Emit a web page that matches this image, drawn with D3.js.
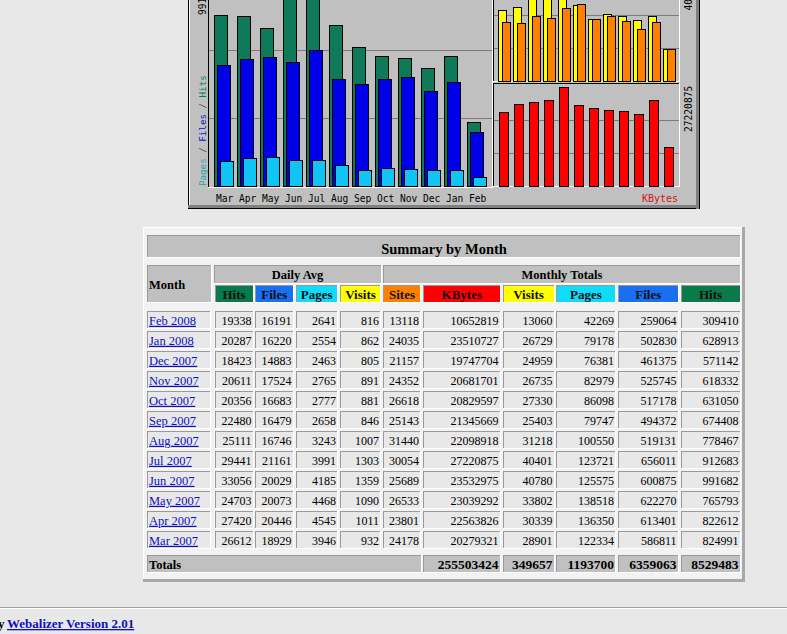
<!DOCTYPE html>
<html><head><meta charset="utf-8">
<script src="https://cdn.jsdelivr.net/npm/d3@7"></script>
<style>html,body{margin:0;padding:0;background:#e8e8e8;overflow:hidden}</style>
</head><body>
<svg id="c" width="787" height="634"></svg>
<script>
// ---------- data ----------
const chartMonths = ["Mar","Apr","May","Jun","Jul","Aug","Sep","Oct","Nov","Dec","Jan","Feb"];
const tableMonths = ["Feb 2008","Jan 2008","Dec 2007","Nov 2007","Oct 2007","Sep 2007","Aug 2007","Jul 2007","Jun 2007","May 2007","Apr 2007","Mar 2007"];
const dailyHits   = [19338,20287,18423,20611,20356,22480,25111,29441,33056,24703,27420,26612];
const dailyFiles  = [16191,16220,14883,17524,16683,16479,16746,21161,20029,20073,20446,18929];
const dailyPages  = [2641,2554,2463,2765,2777,2658,3243,3991,4185,4468,4545,3946];
const dailyVisits = [816,862,805,891,881,846,1007,1303,1359,1090,1011,932];
const totalSites  = [13118,24035,21157,24352,26618,25143,31440,30054,25689,26533,23801,24178];
const totalKBytes = [10652819,23510727,19747704,20681701,20829597,21345669,22098918,27220875,23532975,23039292,22563826,20279321];
const totalVisits = [13060,26729,24959,26735,27330,25403,31218,40401,40780,33802,30339,28901];
const totalPages  = [42269,79178,76381,82979,86098,79747,100550,123721,125575,138518,136350,122334];
const totalFiles  = [259064,502830,461375,525745,517178,494372,519131,656011,600875,622270,613401,586811];
const totalHits   = [309410,628913,571142,618332,631050,674408,778467,912683,991682,765793,822612,824991];
const grandTotals = [255503424,349657,1193700,6359063,8529483];
const dailyHeaders = ["Hits","Files","Pages","Visits"];
const totalHeaders = ["Sites","KBytes","Visits","Pages","Files","Hits"];

// ---------- setup ----------
const svg = d3.select("#c");
svg.append("rect").attr("width",787).attr("height",634).attr("fill","#e8e8e8");
const g = svg.append("g").attr("shape-rendering","crispEdges");
const R = (x,y,w,h,f,p=g)=>p.append("rect").attr("x",x).attr("y",y).attr("width",w).attr("height",h).attr("fill",f);
const L = (x1,y1,x2,y2,c,p=g)=>p.append("line").attr("x1",x1).attr("y1",y1).attr("x2",x2).attr("y2",y2).attr("stroke",c).attr("stroke-width",1);
const MONO = "'DejaVu Sans Mono', monospace";
const SERIF = "'Liberation Serif', 'Times New Roman', serif";

// ---------- chart image ----------
R(188,-47,512,256,"#c0c0c0");
L(188.5,-47,188.5,209,"#000");
L(189.5,-47,189.5,206,"#fff");
R(188,205,512,3,"#808080"); R(188,208,512,1,"#000");
R(696,-47,3,256,"#808080"); R(699,-47,1,256,"#000");

// panels
// P1
L(208.5,-19,208.5,188,"#000"); L(208,187.5,493,187.5,"#fff"); L(492.5,-19,492.5,188,"#fff");
// P2
L(493.5,-19,493.5,82,"#000"); L(493,81.5,680,81.5,"#fff"); L(679.5,-19,679.5,82,"#fff");
// P3
L(493,83.5,680,83.5,"#000"); L(493.5,83,493.5,187,"#000"); L(493,186.5,680,186.5,"#fff"); L(679.5,83,679.5,187,"#fff");

const cHits = totalHits.slice().reverse();
const cFiles = totalFiles.slice().reverse();
const cPages = totalPages.slice().reverse();
const cVisits = totalVisits.slice().reverse();
const cSites = totalSites.slice().reverse();
const cKB = totalKBytes.slice().reverse();

const xL = d3.scaleBand().domain(chartMonths).range([213.2, 489.2]);
const yL = d3.scaleLinear().domain([0, d3.max(totalHits)]).range([186.5, -18.5]);
const xR = d3.scaleBand().domain(chartMonths).range([497.3, 677.3]);
const yV = d3.scaleLinear().domain([0, d3.max(totalVisits)]).range([81, -18]);
const yK = d3.scaleLinear().domain([0, d3.max(totalKBytes)]).range([186, 87.3]);

const gridC = "#7a7a7a";
[1/3,2/3].forEach(f=>{
  const yy = Math.round(yL(d3.max(totalHits)*f))+0.5; L(209,yy,492,yy,gridC);
  const yv = Math.round(yV(d3.max(totalVisits)*f))+0.5; L(494,yv,679,yv,gridC);
  const yk = Math.round(yK(d3.max(totalKBytes)*f))+0.5; L(494,yk,679,yk,gridC);
});

function bars(vals, xs, ys, off, w, color){
  g.append("g").selectAll("rect").data(vals).join("rect")
    .attr("x",(d,i)=>xs(chartMonths[i])+off).attr("width",w)
    .attr("y",d=>ys(d)).attr("height",d=>ys(0)-ys(d))
    .attr("fill",color).attr("stroke","#000").attr("stroke-width",1);
}
bars(cHits, xL, yL, 1.5, 12.6, "#0f7a5a");
bars(cFiles, xL, yL, 4.3, 13, "#0000e8");
bars(cPages, xL, yL, 7.1, 13, "#10c4f4");
bars(cVisits, xR, yV, 1, 8.3, "#ffff00");
bars(cSites, xR, yV, 5, 7.7, "#ff8000");
bars(cKB, xR, yK, 1.7, 9.3, "#ff0000");

const t = svg.append("g");
t.selectAll("text.m").data(chartMonths).join("text")
  .attr("x",d=>xL(d)+11.4).attr("y",202).attr("text-anchor","middle")
  .attr("font-family",MONO).attr("font-size",9.6).attr("fill","#000").text(d=>d);

function vtext(x,y,str,color,size=9.6){
  return t.append("text").attr("transform",`translate(${x},${y}) rotate(-90)`)
    .attr("font-family",MONO).attr("font-size",size).attr("fill",color).text(str);
}
vtext(206,15,String(d3.max(totalHits)),"#000");
const vt = vtext(206,186,"","#000",9.2);
vt.append("tspan").attr("fill","#20a8b0").text("Pages");
vt.append("tspan").attr("fill","#404040").text(" / ");
vt.append("tspan").attr("fill","#1010c8").text("Files");
vt.append("tspan").attr("fill","#404040").text(" / ");
vt.append("tspan").attr("fill","#00805c").text("Hits");
vtext(692,10.5,String(d3.max(totalVisits)),"#000");
vtext(692,132,String(d3.max(totalKBytes)),"#000");
t.append("text").attr("x",678).attr("y",202).attr("text-anchor","end")
  .attr("font-family",MONO).attr("font-size",10).attr("fill","#d01818").text("KBytes");

// ---------- table ----------
const tb = svg.append("g").attr("shape-rendering","crispEdges");
R(143,227,602,355,"#f2f2f2",tb);
L(143,227.5,745,227.5,"#ffffff",tb); L(143.5,227,143.5,582,"#ffffff",tb);
R(742,227,3,355,"#a8a8a8",tb); R(143,579,602,3,"#a8a8a8",tb);

function cell(x0,x1,y0,y1,fill){
  R(x0,y0,x1-x0,y1-y0,fill,tb);
  L(x0,y0+0.5,x1,y0+0.5,"#9a9a9a",tb); L(x0+0.5,y0,x0+0.5,y1,"#9a9a9a",tb);
  L(x0,y1-0.5,x1,y1-0.5,"#ffffff",tb); L(x1-0.5,y0,x1-0.5,y1,"#ffffff",tb);
}
const colX = [[147,211],[214.5,253.5],[255,293.5],[295.5,338],[340,381],[383,421],[423,500.5],[502.5,554.5],[556,616],[618,678.5],[680.5,740.5]];
const hdrColors = {Hits:"#0a7a4a",Files:"#1a6ff0",Pages:"#10dcf8",Visits:"#ffff00",Sites:"#ff8000",KBytes:"#ff0000"};
const tt = svg.append("g").attr("font-family",SERIF);

// title
cell(147,741,235,258,"#c0c0c0");
tt.append("text").attr("x",444).attr("y",253.5).attr("text-anchor","middle")
  .attr("font-size",14.5).attr("font-weight","bold").text("Summary by Month");
// header row 1
cell(147,211.5,265,303,"#c0c0c0");
cell(214,381.5,265,283.5,"#c0c0c0");
cell(383,741,265,283.5,"#c0c0c0");
tt.append("text").attr("x",149).attr("y",289).attr("font-size",12.5).attr("font-weight","bold").text("Month");
tt.append("text").attr("x",297.5).attr("y",279).attr("text-anchor","middle").attr("font-size",12.5).attr("font-weight","bold").text("Daily Avg");
tt.append("text").attr("x",562).attr("y",279).attr("text-anchor","middle").attr("font-size",12.5).attr("font-weight","bold").text("Monthly Totals");
// header row 2
const hdrs = dailyHeaders.concat(totalHeaders);
hdrs.forEach((h,i)=>{
  const [x0,x1] = colX[i+1];
  cell(x0,x1,285,303,hdrColors[h]);
  tt.append("text").attr("x",(x0+x1)/2).attr("y",298.5).attr("text-anchor","middle")
    .attr("font-size",13).attr("font-weight","bold").attr("fill","#111").text(h);
});
// data rows
const yRow = d3.scaleBand().domain(tableMonths).range([310.5,548.5]).paddingInner(0.1);
const rows = tableMonths.map((m,i)=>[m,dailyHits[i],dailyFiles[i],dailyPages[i],dailyVisits[i],totalSites[i],totalKBytes[i],totalVisits[i],totalPages[i],totalFiles[i],totalHits[i]]);
rows.forEach(r=>{
  const y0 = yRow(r[0]), y1 = y0 + yRow.bandwidth();
  r.forEach((v,j)=>{
    const [x0,x1] = colX[j];
    cell(x0,x1,y0,y1,"#e8e8e8");
    if(j===0){
      tt.append("text").attr("x",x0+2).attr("y",y0+14.3).attr("font-size",12.5)
        .attr("fill","#1010c0").attr("text-decoration","underline").text(v);
    } else {
      tt.append("text").attr("x",x1-2).attr("y",y0+14.3).attr("text-anchor","end")
        .attr("font-size",12).attr("fill","#000").text(v);
    }
  });
});
// totals row
cell(147,421.5,555,573,"#c0c0c0");
tt.append("text").attr("x",149).attr("y",568.5).attr("font-size",12.5).attr("font-weight","bold").text("Totals");
grandTotals.forEach((v,k)=>{
  const [x0,x1] = colX[k+6];
  cell(x0,x1,555,573,"#c0c0c0");
  tt.append("text").attr("x",x1-2).attr("y",568.5).attr("text-anchor","end")
    .attr("font-size",13.5).attr("font-weight","bold").text(v);
});

// ---------- footer ----------
L(0,607.5,787,607.5,"#a0a0a0"); L(0,608.5,787,608.5,"#ffffff");
tt.append("text").attr("x",4.5).attr("y",628).attr("text-anchor","end")
  .attr("font-size",13).attr("font-weight","bold").text("Generated by");
tt.append("text").attr("x",7).attr("y",628).attr("font-size",13).attr("font-weight","bold")
  .attr("fill","#1010c0").attr("text-decoration","underline").text("Webalizer Version 2.01");
</script>
</body></html>
